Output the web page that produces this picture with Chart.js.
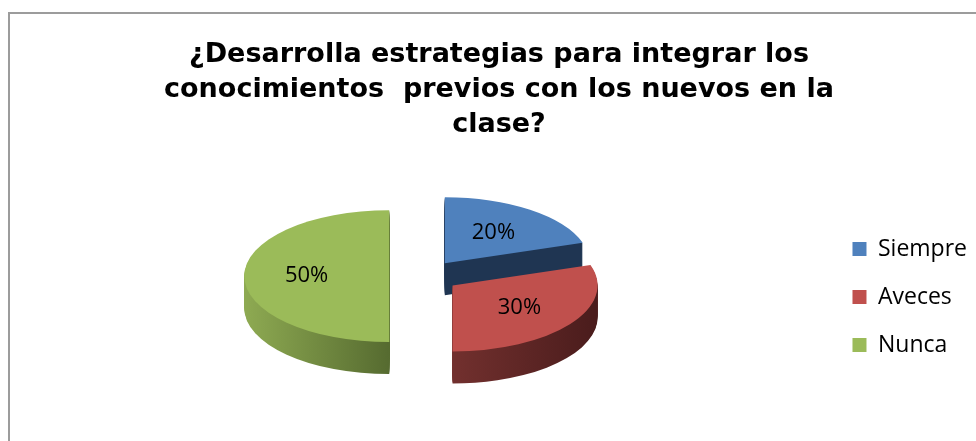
<!DOCTYPE html>
<html lang="es">
<head>
    <meta charset="UTF-8">
    <title>Estrategias</title>
    <script src="https://cdn.jsdelivr.net/npm/chart.js"></script>
    <style>
      body { margin: 0; background: #fff; overflow: hidden; }
      .frame { position: absolute; left: 8px; top: 12px; width: 1100px; height: 600px;
               border-left: 2px solid #9c9c9c; border-top: 2px solid #9c9c9c; }
      .chart-box { position: absolute; left: 21px; top: 0px; width: 956px; height: 441px; }
    </style>
</head>
<body>
    <div class="frame"></div>
    <div class="chart-box"><canvas id="pie"></canvas></div>

    <script type="text/javascript" charset="utf-8">
      // data
      const categories = ['Siempre', 'Aveces', 'Nunca'];
      const percents = [20, 30, 50];
      const titleLines = ['¿Desarrolla estrategias para integrar los',
                          'conocimientos  previos con los nuevos en la',
                          'clase?'];

      // look of the fake 3d pie
      const topColors = ['#4F81BD', '#C0504D', '#9BBB59'];
      const sideColors = [ // stops at -r, 0, +r
        ['#1F3552', '#1F3552', '#1F3552'],
        ['#7A302E', '#72302E', '#4A1C1C'],
        ['#8EAA52', '#566B30', '#566B30']
      ];
      const drawOrder = [0, 2, 1];   // back slices first
      const tilt = 0.455;
      const depth = 32;
      const explode = 35;

      function slicePath(ctx, arc) {
        ctx.beginPath();
        ctx.moveTo(0, 0);
        ctx.arc(0, 0, arc.outerRadius, arc.startAngle, arc.endAngle);
        ctx.closePath();
      }

      const pie3d = {
        id: 'pie3d',
        beforeDatasetsDraw(chart) {
          /* draw sides then the top face of each slice, squashed and pulled out */
          const ctx = chart.ctx;
          const arcs = chart.getDatasetMeta(0).data;
          drawOrder.forEach(i => {
            const arc = arcs[i];
            const mid = (arc.startAngle + arc.endAngle) / 2;
            const dx = Math.cos(mid) * explode;
            const dy = Math.sin(mid) * explode * tilt;
            const r = arc.outerRadius;
            for (let d = depth; d >= 1; d--) {
              ctx.save();
              ctx.translate(arc.x + dx, arc.y + dy + d);
              ctx.scale(1, tilt);
              const g = ctx.createLinearGradient(-r, 0, r, 0);
              g.addColorStop(0, sideColors[i][0]);
              g.addColorStop(0.5, sideColors[i][1]);
              g.addColorStop(1, sideColors[i][2]);
              ctx.fillStyle = g;
              slicePath(ctx, arc);
              ctx.fill();
              ctx.restore();
            }
            ctx.save();
            ctx.translate(arc.x + dx, arc.y + dy);
            ctx.scale(1, tilt);
            ctx.translate(-arc.x, -arc.y);
            arc.draw(ctx);
            ctx.restore();
          });
          return false;
        },
        afterDraw(chart) {
          /* percentage labels on the top faces */
          const ctx = chart.ctx;
          const arcs = chart.getDatasetMeta(0).data;
          ctx.save();
          ctx.font = '22px "Open Sans"';
          ctx.fillStyle = '#000';
          ctx.textAlign = 'center';
          ctx.textBaseline = 'middle';
          arcs.forEach((arc, i) => {
            const mid = (arc.startAngle + arc.endAngle) / 2;
            const rr = explode + arc.outerRadius * 0.57;
            const x = arc.x + Math.cos(mid) * rr;
            const y = arc.y + Math.sin(mid) * rr * tilt;
            ctx.fillText(percents[i] + '%', x, y);
          });
          ctx.restore();
        }
      };

      const ctx = document.getElementById('pie').getContext('2d');
      const chart = new Chart(ctx, {
        type: 'pie',
        data: {
          labels: categories,
          datasets: [{
            data: percents,
            backgroundColor: topColors,
            borderWidth: 0
          }]
        },
        options: {
          responsive: true,
          maintainAspectRatio: false,
          animation: false,
          events: [],
          radius: 145,
          layout: { padding: { left: 0, right: 0, top: 0, bottom: 59.5 } },
          plugins: {
            title: {
              display: true,
              text: titleLines,
              color: '#000',
              font: { family: '"DejaVu Sans", Arial', size: 27, weight: 'bold', lineHeight: 1.3 },
              padding: { top: 37.5, bottom: 27.9 }
            },
            legend: {
              position: 'right',
              align: 'end',
              labels: {
                color: '#000',
                font: { family: '"Open Sans"', size: 23 },
                boxWidth: 14,
                boxHeight: 14,
                padding: 25
              }
            },
            tooltip: { enabled: false }
          }
        },
        plugins: [pie3d]
      });
    </script>
</body>
</html>
